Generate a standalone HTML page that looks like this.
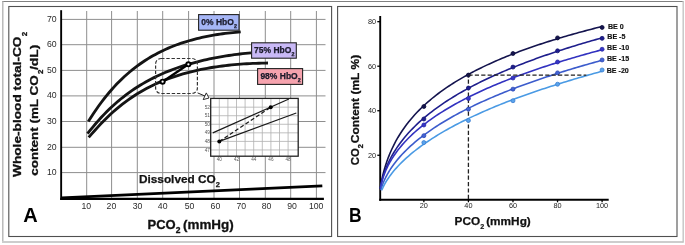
<!DOCTYPE html><html><head><meta charset="utf-8"><style>html,body{margin:0;padding:0;background:#fff;overflow:hidden}svg{display:block;will-change:transform}</style></head><body><svg width="685" height="245" viewBox="0 0 685 245">
<rect width="685" height="245" fill="#fff"/>
<line x1="2" y1="1.5" x2="683.5" y2="1.5" stroke="#808080" stroke-width="1"/>
<line x1="2.8" y1="1" x2="2.8" y2="242" stroke="#b0b0b0" stroke-width="1.3"/>
<line x1="2" y1="242" x2="683.5" y2="242" stroke="#cdcdcd" stroke-width="1.8"/>
<line x1="683.2" y1="1" x2="683.2" y2="242.5" stroke="#c4c4c4" stroke-width="1.4"/>
<rect x="8.8" y="6.5" width="322.8" height="230" fill="none" stroke="#505050" stroke-width="1.1"/>
<rect x="337.6" y="6.5" width="339.4" height="230" fill="none" stroke="#505050" stroke-width="1.1"/>
<path d="M86.70 11V198 M111.60 11V198 M137.30 11V198 M162.70 11V198 M188.60 11V198 M214.00 11V198 M239.50 11V198 M265.30 11V198 M290.70 11V198 M316.40 11V198 M62 19.40H325.5 M62 44.70H325.5 M62 70.40H325.5 M62 95.90H325.5 M62 121.50H325.5 M62 147.30H325.5 M62 172.60H325.5" stroke="#8e8e8e" stroke-width="1" fill="none"/>
<text x="56.6" y="175.00" font-family="Liberation Sans, sans-serif" font-size="8.7" fill="#2a2a2a" text-anchor="end">10</text>
<text x="56.6" y="149.70" font-family="Liberation Sans, sans-serif" font-size="8.7" fill="#2a2a2a" text-anchor="end">20</text>
<text x="56.6" y="123.90" font-family="Liberation Sans, sans-serif" font-size="8.7" fill="#2a2a2a" text-anchor="end">30</text>
<text x="56.6" y="98.30" font-family="Liberation Sans, sans-serif" font-size="8.7" fill="#2a2a2a" text-anchor="end">40</text>
<text x="56.6" y="72.80" font-family="Liberation Sans, sans-serif" font-size="8.7" fill="#2a2a2a" text-anchor="end">50</text>
<text x="56.6" y="47.10" font-family="Liberation Sans, sans-serif" font-size="8.7" fill="#2a2a2a" text-anchor="end">60</text>
<text x="56.6" y="21.80" font-family="Liberation Sans, sans-serif" font-size="8.7" fill="#2a2a2a" text-anchor="end">70</text>
<text x="86.30" y="208.80" font-family="Liberation Sans, sans-serif" font-size="8.7" fill="#2a2a2a" text-anchor="middle">10</text>
<text x="111.40" y="208.80" font-family="Liberation Sans, sans-serif" font-size="8.7" fill="#2a2a2a" text-anchor="middle">20</text>
<text x="137.50" y="208.80" font-family="Liberation Sans, sans-serif" font-size="8.7" fill="#2a2a2a" text-anchor="middle">30</text>
<text x="162.70" y="208.80" font-family="Liberation Sans, sans-serif" font-size="8.7" fill="#2a2a2a" text-anchor="middle">40</text>
<text x="189.50" y="208.80" font-family="Liberation Sans, sans-serif" font-size="8.7" fill="#2a2a2a" text-anchor="middle">50</text>
<text x="215.40" y="208.80" font-family="Liberation Sans, sans-serif" font-size="8.7" fill="#2a2a2a" text-anchor="middle">60</text>
<text x="241.30" y="208.80" font-family="Liberation Sans, sans-serif" font-size="8.7" fill="#2a2a2a" text-anchor="middle">70</text>
<text x="266.50" y="208.80" font-family="Liberation Sans, sans-serif" font-size="8.7" fill="#2a2a2a" text-anchor="middle">80</text>
<text x="292.10" y="208.80" font-family="Liberation Sans, sans-serif" font-size="8.7" fill="#2a2a2a" text-anchor="middle">90</text>
<text x="316.20" y="208.80" font-family="Liberation Sans, sans-serif" font-size="8.7" fill="#2a2a2a" text-anchor="middle">100</text>
<line x1="61.5" y1="197.9" x2="322.3" y2="185.9" stroke="#000" stroke-width="2.7"/>
<line x1="61.15" y1="10.2" x2="61.15" y2="199.9" stroke="#000" stroke-width="1.9"/>
<line x1="60.2" y1="198.8" x2="323.9" y2="198.8" stroke="#000" stroke-width="2.2"/>
<text x="139" y="183.2" font-family="Liberation Sans, sans-serif" font-weight="bold" font-size="11.8" fill="#111" stroke="#111" stroke-width="0.25">Dissolved CO<tspan font-size="7.5" dy="3.5">2</tspan></text>
<path d="M88.30 121.44 L90.88 117.41 L93.47 113.50 L96.05 109.71 L98.63 106.05 L101.22 102.52 L103.80 99.13 L106.38 95.87 L108.96 92.74 L111.55 89.74 L114.13 86.87 L116.71 84.11 L119.30 81.47 L121.88 78.95 L124.46 76.52 L127.05 74.21 L129.63 71.99 L132.21 69.86 L134.79 67.83 L137.38 65.88 L139.96 64.02 L142.54 62.23 L145.13 60.53 L147.71 58.89 L150.29 57.33 L152.88 55.83 L155.46 54.41 L158.04 53.04 L160.63 51.73 L163.21 50.48 L165.79 49.29 L168.37 48.15 L170.96 47.06 L173.54 46.03 L176.12 45.04 L178.71 44.09 L181.29 43.19 L183.87 42.34 L186.46 41.52 L189.04 40.75 L191.62 40.01 L194.21 39.31 L196.79 38.65 L199.37 38.02 L201.95 37.43 L204.54 36.87 L207.12 36.34 L209.70 35.84 L212.29 35.37 L214.87 34.93 L217.45 34.52 L220.04 34.13 L222.62 33.78 L225.20 33.44 L227.78 33.13 L230.37 32.85 L232.95 32.59 L235.53 32.35 L238.12 32.13 L240.70 31.93" stroke="#141414" stroke-width="2.85" fill="none"/>
<path d="M87.50 133.62 L90.27 130.17 L93.04 126.81 L95.81 123.54 L98.58 120.37 L101.36 117.32 L104.13 114.37 L106.90 111.54 L109.67 108.82 L112.44 106.21 L115.21 103.70 L117.98 101.29 L120.75 98.99 L123.53 96.77 L126.30 94.65 L129.07 92.61 L131.84 90.65 L134.61 88.78 L137.38 86.98 L140.15 85.25 L142.92 83.60 L145.69 82.01 L148.47 80.48 L151.24 79.02 L154.01 77.62 L156.78 76.27 L159.55 74.98 L162.32 73.74 L165.09 72.54 L167.86 71.40 L170.64 70.31 L173.41 69.26 L176.18 68.25 L178.95 67.28 L181.72 66.35 L184.49 65.46 L187.26 64.61 L190.03 63.80 L192.81 63.01 L195.58 62.26 L198.35 61.55 L201.12 60.86 L203.89 60.21 L206.66 59.58 L209.43 58.98 L212.20 58.41 L214.97 57.86 L217.75 57.34 L220.52 56.84 L223.29 56.37 L226.06 55.92 L228.83 55.49 L231.60 55.09 L234.37 54.70 L237.14 54.34 L239.92 53.99 L242.69 53.67 L245.46 53.36 L248.23 53.07 L251.00 52.80" stroke="#141414" stroke-width="2.85" fill="none"/>
<path d="M88.70 137.39 L91.74 133.89 L94.78 130.45 L97.82 127.09 L100.86 123.83 L103.89 120.69 L106.93 117.67 L109.97 114.77 L113.01 111.99 L116.05 109.33 L119.09 106.79 L122.13 104.36 L125.17 102.04 L128.21 99.83 L131.25 97.72 L134.28 95.70 L137.32 93.78 L140.36 91.95 L143.40 90.21 L146.44 88.55 L149.48 86.97 L152.52 85.46 L155.56 84.03 L158.60 82.67 L161.64 81.37 L164.67 80.14 L167.71 78.96 L170.75 77.85 L173.79 76.79 L176.83 75.79 L179.87 74.84 L182.91 73.94 L185.95 73.08 L188.99 72.28 L192.03 71.51 L195.06 70.79 L198.10 70.11 L201.14 69.47 L204.18 68.87 L207.22 68.30 L210.26 67.77 L213.30 67.28 L216.34 66.81 L219.38 66.38 L222.42 65.98 L225.45 65.61 L228.49 65.27 L231.53 64.95 L234.57 64.66 L237.61 64.40 L240.65 64.16 L243.69 63.95 L246.73 63.76 L249.77 63.59 L252.81 63.45 L255.84 63.32 L258.88 63.22 L261.92 63.14 L264.96 63.07 L268.00 63.03" stroke="#141414" stroke-width="2.85" fill="none"/>
<rect x="198.6" y="14.6" width="40.400000000000006" height="15.6" fill="#a6b6f6" stroke="#222" stroke-width="1.1"/>
<text x="201.3" y="25.1" font-family="Liberation Sans, sans-serif" font-weight="bold" font-size="8.5" fill="#1a1a2a" stroke="#1a1a2a" stroke-width="0.25">0% HbO<tspan font-size="5.3" dy="2.5">2</tspan></text>
<rect x="251.6" y="42.8" width="44.70000000000002" height="15.400000000000006" fill="#c9b9f6" stroke="#222" stroke-width="1.1"/>
<text x="254.1" y="53.0" font-family="Liberation Sans, sans-serif" font-weight="bold" font-size="8.5" fill="#1a1a2a" stroke="#1a1a2a" stroke-width="0.25">75% HbO<tspan font-size="5.3" dy="2.5">2</tspan></text>
<rect x="257.6" y="68.6" width="45.0" height="15.800000000000011" fill="#f6a3ae" stroke="#222" stroke-width="1.1"/>
<text x="260.4" y="79.1" font-family="Liberation Sans, sans-serif" font-weight="bold" font-size="8.5" fill="#1a1a2a" stroke="#1a1a2a" stroke-width="0.25">98% HbO<tspan font-size="5.3" dy="2.5">2</tspan></text>
<rect x="155.6" y="58.5" width="41.8" height="35" rx="5.5" fill="none" stroke="#333" stroke-width="1.2" stroke-dasharray="3.4 1.8"/>
<line x1="162.6" y1="81.7" x2="188.4" y2="64.3" stroke="#000" stroke-width="2.3"/>
<circle cx="162.6" cy="81.7" r="2.1" fill="#fff" stroke="#000" stroke-width="1.9"/>
<circle cx="188.4" cy="64.3" r="2.1" fill="#fff" stroke="#000" stroke-width="1.9"/>
<line x1="197.6" y1="92.9" x2="205.8" y2="96.4" stroke="#222" stroke-width="1"/>
<path d="M209 98 L206.3 92.9 L203.2 99.6 Z" fill="#fff" stroke="#222" stroke-width="0.95" stroke-linejoin="round"/>
<rect x="210.7" y="98.4" width="87.5" height="57.8" fill="#fff"/>
<path d="M219.30 98.4V156.2 M227.90 98.4V156.2 M236.50 98.4V156.2 M245.10 98.4V156.2 M253.70 98.4V156.2 M262.30 98.4V156.2 M270.90 98.4V156.2 M279.50 98.4V156.2 M288.10 98.4V156.2 M210.7 149.96H298.2 M210.7 141.40H298.2 M210.7 132.84H298.2 M210.7 124.28H298.2 M210.7 115.72H298.2 M210.7 107.16H298.2" stroke="#b0b0b0" stroke-width="0.8" fill="none"/>
<rect x="210.7" y="98.4" width="87.5" height="57.8" fill="none" stroke="#222" stroke-width="1.3"/>
<text x="209.9" y="151.56" font-family="Liberation Sans, sans-serif" font-size="4.7" fill="#555" text-anchor="end">47</text>
<text x="209.9" y="143.00" font-family="Liberation Sans, sans-serif" font-size="4.7" fill="#555" text-anchor="end">48</text>
<text x="209.9" y="134.44" font-family="Liberation Sans, sans-serif" font-size="4.7" fill="#555" text-anchor="end">49</text>
<text x="209.9" y="125.88" font-family="Liberation Sans, sans-serif" font-size="4.7" fill="#555" text-anchor="end">50</text>
<text x="209.9" y="117.32" font-family="Liberation Sans, sans-serif" font-size="4.7" fill="#555" text-anchor="end">51</text>
<text x="209.9" y="108.76" font-family="Liberation Sans, sans-serif" font-size="4.7" fill="#555" text-anchor="end">52</text>
<text x="219.30" y="161.2" font-family="Liberation Sans, sans-serif" font-size="4.6" fill="#555" text-anchor="middle">40</text>
<text x="236.50" y="161.2" font-family="Liberation Sans, sans-serif" font-size="4.6" fill="#555" text-anchor="middle">42</text>
<text x="253.70" y="161.2" font-family="Liberation Sans, sans-serif" font-size="4.6" fill="#555" text-anchor="middle">44</text>
<text x="270.90" y="161.2" font-family="Liberation Sans, sans-serif" font-size="4.6" fill="#555" text-anchor="middle">46</text>
<text x="288.10" y="161.2" font-family="Liberation Sans, sans-serif" font-size="4.6" fill="#555" text-anchor="middle">48</text>
<line x1="212.8" y1="132.9" x2="288.9" y2="99" stroke="#1a1a1a" stroke-width="1.15"/>
<line x1="219.3" y1="141.4" x2="296.3" y2="113" stroke="#1a1a1a" stroke-width="1.15"/>
<line x1="219.3" y1="141.4" x2="270.7" y2="107.3" stroke="#1a1a1a" stroke-width="1.3" stroke-dasharray="4 2.3"/>
<circle cx="219.3" cy="141.4" r="2" fill="#000"/>
<circle cx="270.7" cy="107.3" r="2" fill="#000"/>
<text x="23.2" y="222.2" font-family="Liberation Sans, sans-serif" font-weight="bold" font-size="20" fill="#000">A</text>
<text x="147.5" y="228.7" font-family="Liberation Sans, sans-serif" font-weight="bold" font-size="13" fill="#111" stroke="#111" stroke-width="0.3">PCO<tspan font-size="8.5" dy="4">2</tspan></text>
<text x="183.0" y="228.7" font-family="Liberation Sans, sans-serif" font-weight="bold" font-size="13" fill="#111" stroke="#111" stroke-width="0.3" textLength="50.7" lengthAdjust="spacingAndGlyphs">(mmHg)</text>
<text transform="translate(20.9 177) rotate(-90)" font-family="Liberation Sans, sans-serif" font-weight="bold" font-size="11.8" fill="#111" stroke="#111" stroke-width="0.3" textLength="140.5" lengthAdjust="spacingAndGlyphs">Whole-blood total-CO</text>
<text transform="translate(26.6 36.3) rotate(-90)" font-family="Liberation Sans, sans-serif" font-weight="bold" font-size="8" fill="#111" stroke="#111" stroke-width="0.3">2</text>
<text transform="translate(38.2 175.8) rotate(-90)" font-family="Liberation Sans, sans-serif" font-weight="bold" font-size="11.8" fill="#111" stroke="#111" stroke-width="0.3" textLength="100.5" lengthAdjust="spacingAndGlyphs">content (mL CO</text>
<text transform="translate(42.8 74) rotate(-90)" font-family="Liberation Sans, sans-serif" font-weight="bold" font-size="8" fill="#111" stroke="#111" stroke-width="0.3">2</text>
<text transform="translate(38.2 70) rotate(-90)" font-family="Liberation Sans, sans-serif" font-weight="bold" font-size="11.8" fill="#111" stroke="#111" stroke-width="0.3" textLength="25.5" lengthAdjust="spacingAndGlyphs">/dL)</text>
<line x1="380.2" y1="16" x2="380.2" y2="200.8" stroke="#000" stroke-width="1.9"/>
<line x1="379.3" y1="199.8" x2="608.7" y2="199.8" stroke="#000" stroke-width="1.9"/>
<line x1="377.3" y1="155.27" x2="380" y2="155.27" stroke="#000" stroke-width="1.3"/>
<text x="376.2" y="157.67" font-family="Liberation Sans, sans-serif" font-size="7.3" fill="#222" text-anchor="end">20</text>
<line x1="377.3" y1="110.73" x2="380" y2="110.73" stroke="#000" stroke-width="1.3"/>
<text x="376.2" y="113.13" font-family="Liberation Sans, sans-serif" font-size="7.3" fill="#222" text-anchor="end">40</text>
<line x1="377.3" y1="66.20" x2="380" y2="66.20" stroke="#000" stroke-width="1.3"/>
<text x="376.2" y="68.60" font-family="Liberation Sans, sans-serif" font-size="7.3" fill="#222" text-anchor="end">60</text>
<line x1="377.3" y1="21.66" x2="380" y2="21.66" stroke="#000" stroke-width="1.3"/>
<text x="376.2" y="24.06" font-family="Liberation Sans, sans-serif" font-size="7.3" fill="#222" text-anchor="end">80</text>
<line x1="423.86" y1="200" x2="423.86" y2="202.3" stroke="#000" stroke-width="1.3"/>
<text x="423.86" y="207.7" font-family="Liberation Sans, sans-serif" font-size="7.3" fill="#222" text-anchor="middle">20</text>
<line x1="468.42" y1="200" x2="468.42" y2="202.3" stroke="#000" stroke-width="1.3"/>
<text x="468.42" y="207.7" font-family="Liberation Sans, sans-serif" font-size="7.3" fill="#222" text-anchor="middle">40</text>
<line x1="512.98" y1="200" x2="512.98" y2="202.3" stroke="#000" stroke-width="1.3"/>
<text x="512.98" y="207.7" font-family="Liberation Sans, sans-serif" font-size="7.3" fill="#222" text-anchor="middle">60</text>
<line x1="557.54" y1="200" x2="557.54" y2="202.3" stroke="#000" stroke-width="1.3"/>
<text x="557.54" y="207.7" font-family="Liberation Sans, sans-serif" font-size="7.3" fill="#222" text-anchor="middle">80</text>
<line x1="602.10" y1="200" x2="602.10" y2="202.3" stroke="#000" stroke-width="1.3"/>
<text x="602.10" y="207.7" font-family="Liberation Sans, sans-serif" font-size="7.3" fill="#222" text-anchor="middle">100</text>
<path d="M468.42 199V75.10" stroke="#222" stroke-width="1.3" stroke-dasharray="4.2 2.2" fill="none"/>
<path d="M380.30 188.71 L380.37 188.26 L380.43 187.79 L380.51 187.30 L380.58 186.79 L380.67 186.27 L380.75 185.72 L380.84 185.15 L380.94 184.57 L381.05 183.96 L381.16 183.33 L381.28 182.68 L381.40 182.00 L381.54 181.30 L381.68 180.57 L381.83 179.82 L381.99 179.04 L382.16 178.23 L382.35 177.40 L382.54 176.54 L382.75 175.65 L382.97 174.72 L383.20 173.77 L383.45 172.79 L383.71 171.77 L383.99 170.72 L384.29 169.64 L384.61 168.53 L384.95 167.37 L385.31 166.19 L385.69 164.97 L386.10 163.71 L386.53 162.41 L386.99 161.07 L387.48 159.70 L388.00 158.29 L388.56 156.84 L389.15 155.34 L389.77 153.81 L390.44 152.24 L391.55 149.72 L393.68 145.28 L395.81 141.22 L397.93 137.47 L400.06 133.99 L402.19 130.73 L404.31 127.67 L406.44 124.78 L408.57 122.03 L410.69 119.42 L412.82 116.94 L414.95 114.56 L417.07 112.28 L419.20 110.09 L421.33 107.98 L423.45 105.96 L425.58 104.00 L427.71 102.11 L429.84 100.27 L431.96 98.50 L434.09 96.78 L436.22 95.11 L438.34 93.49 L440.47 91.91 L442.60 90.37 L444.72 88.87 L446.85 87.41 L448.98 85.99 L451.10 84.60 L453.23 83.24 L455.36 81.91 L457.48 80.61 L459.61 79.34 L461.74 78.09 L463.86 76.88 L465.99 75.68 L468.12 74.51 L470.24 73.36 L472.37 72.23 L474.50 71.13 L476.62 70.04 L478.75 68.98 L480.88 67.93 L483.00 66.90 L485.13 65.88 L487.26 64.89 L489.38 63.91 L491.51 62.94 L493.64 61.99 L495.76 61.06 L497.89 60.14 L500.02 59.23 L502.14 58.33 L504.27 57.45 L506.40 56.58 L508.52 55.73 L510.65 54.88 L512.78 54.05 L514.90 53.23 L517.03 52.42 L519.16 51.62 L521.28 50.83 L523.41 50.05 L525.54 49.28 L527.66 48.51 L529.79 47.76 L531.92 47.02 L534.04 46.29 L536.17 45.56 L538.30 44.84 L540.42 44.13 L542.55 43.43 L544.68 42.74 L546.81 42.06 L548.93 41.38 L551.06 40.71 L553.19 40.04 L555.31 39.39 L557.44 38.74 L559.57 38.09 L561.69 37.46 L563.82 36.83 L565.95 36.20 L568.07 35.59 L570.20 34.98 L572.33 34.37 L574.45 33.77 L576.58 33.18 L578.71 32.59 L580.83 32.01 L582.96 31.43 L585.09 30.86 L587.21 30.29 L589.34 29.73 L591.47 29.17 L593.59 28.62 L595.72 28.07 L597.85 27.53 L599.97 26.99 L602.10 26.46" stroke="#14144e" stroke-width="1.6" fill="none"/>
<circle cx="423.86" cy="106.50" r="2" fill="#14144e" stroke="#0c0c3a" stroke-width="0.8"/>
<circle cx="468.42" cy="75.10" r="2" fill="#14144e" stroke="#0c0c3a" stroke-width="0.8"/>
<circle cx="512.98" cy="53.51" r="2" fill="#14144e" stroke="#0c0c3a" stroke-width="0.8"/>
<circle cx="557.54" cy="37.92" r="2" fill="#14144e" stroke="#0c0c3a" stroke-width="0.8"/>
<circle cx="602.10" cy="27.45" r="2" fill="#14144e" stroke="#0c0c3a" stroke-width="0.8"/>
<path d="M380.30 188.60 L380.37 188.20 L380.43 187.80 L380.51 187.38 L380.58 186.94 L380.67 186.49 L380.75 186.03 L380.84 185.55 L380.94 185.05 L381.05 184.54 L381.16 184.01 L381.28 183.46 L381.40 182.89 L381.54 182.31 L381.68 181.70 L381.83 181.08 L381.99 180.44 L382.16 179.77 L382.35 179.08 L382.54 178.38 L382.75 177.64 L382.97 176.89 L383.20 176.11 L383.45 175.31 L383.71 174.48 L383.99 173.62 L384.29 172.74 L384.61 171.83 L384.95 170.89 L385.31 169.93 L385.69 168.93 L386.10 167.90 L386.53 166.84 L386.99 165.75 L387.48 164.63 L388.00 163.47 L388.56 162.28 L389.15 161.06 L389.77 159.80 L390.44 158.50 L391.55 156.42 L393.68 152.73 L395.81 149.32 L397.93 146.16 L400.06 143.19 L402.19 140.40 L404.31 137.75 L406.44 135.23 L408.57 132.83 L410.69 130.53 L412.82 128.32 L414.95 126.20 L417.07 124.15 L419.20 122.17 L421.33 120.26 L423.45 118.41 L425.58 116.61 L427.71 114.87 L429.84 113.17 L431.96 111.52 L434.09 109.91 L436.22 108.34 L438.34 106.81 L440.47 105.31 L442.60 103.85 L444.72 102.42 L446.85 101.02 L448.98 99.65 L451.10 98.30 L453.23 96.99 L455.36 95.70 L457.48 94.43 L459.61 93.18 L461.74 91.96 L463.86 90.76 L465.99 89.58 L468.12 88.42 L470.24 87.28 L472.37 86.15 L474.50 85.05 L476.62 83.96 L478.75 82.89 L480.88 81.83 L483.00 80.79 L485.13 79.76 L487.26 78.75 L489.38 77.75 L491.51 76.77 L493.64 75.79 L495.76 74.84 L497.89 73.89 L500.02 72.95 L502.14 72.03 L504.27 71.12 L506.40 70.22 L508.52 69.33 L510.65 68.45 L512.78 67.58 L514.90 66.72 L517.03 65.87 L519.16 65.03 L521.28 64.20 L523.41 63.38 L525.54 62.57 L527.66 61.76 L529.79 60.96 L531.92 60.18 L534.04 59.40 L536.17 58.62 L538.30 57.86 L540.42 57.10 L542.55 56.35 L544.68 55.61 L546.81 54.87 L548.93 54.15 L551.06 53.42 L553.19 52.71 L555.31 52.00 L557.44 51.30 L559.57 50.60 L561.69 49.91 L563.82 49.23 L565.95 48.55 L568.07 47.87 L570.20 47.21 L572.33 46.55 L574.45 45.89 L576.58 45.24 L578.71 44.59 L580.83 43.95 L582.96 43.32 L585.09 42.69 L587.21 42.06 L589.34 41.44 L591.47 40.83 L593.59 40.22 L595.72 39.61 L597.85 39.01 L599.97 38.41 L602.10 37.82" stroke="#1e1e8c" stroke-width="1.6" fill="none"/>
<circle cx="423.86" cy="118.97" r="2" fill="#1e1e90" stroke="#161670" stroke-width="0.8"/>
<circle cx="468.42" cy="88.02" r="2" fill="#1e1e90" stroke="#161670" stroke-width="0.8"/>
<circle cx="512.98" cy="67.09" r="2" fill="#1e1e90" stroke="#161670" stroke-width="0.8"/>
<circle cx="557.54" cy="50.83" r="2" fill="#1e1e90" stroke="#161670" stroke-width="0.8"/>
<circle cx="602.10" cy="38.36" r="2" fill="#1e1e90" stroke="#161670" stroke-width="0.8"/>
<path d="M380.30 188.76 L380.37 188.39 L380.43 188.01 L380.51 187.62 L380.58 187.21 L380.67 186.79 L380.75 186.36 L380.84 185.91 L380.94 185.45 L381.05 184.98 L381.16 184.49 L381.28 183.98 L381.40 183.46 L381.54 182.92 L381.68 182.36 L381.83 181.79 L381.99 181.20 L382.16 180.59 L382.35 179.96 L382.54 179.31 L382.75 178.64 L382.97 177.95 L383.20 177.24 L383.45 176.50 L383.71 175.75 L383.99 174.97 L384.29 174.17 L384.61 173.34 L384.95 172.49 L385.31 171.61 L385.69 170.70 L386.10 169.77 L386.53 168.81 L386.99 167.82 L387.48 166.81 L388.00 165.76 L388.56 164.68 L389.15 163.58 L389.77 162.43 L390.44 161.26 L391.55 159.38 L393.68 156.04 L395.81 152.97 L397.93 150.10 L400.06 147.42 L402.19 144.89 L404.31 142.49 L406.44 140.21 L408.57 138.03 L410.69 135.95 L412.82 133.94 L414.95 132.01 L417.07 130.15 L419.20 128.35 L421.33 126.60 L423.45 124.91 L425.58 123.27 L427.71 121.68 L429.84 120.12 L431.96 118.61 L434.09 117.14 L436.22 115.70 L438.34 114.29 L440.47 112.92 L442.60 111.58 L444.72 110.26 L446.85 108.97 L448.98 107.71 L451.10 106.47 L453.23 105.26 L455.36 104.06 L457.48 102.89 L459.61 101.74 L461.74 100.61 L463.86 99.50 L465.99 98.41 L468.12 97.33 L470.24 96.27 L472.37 95.23 L474.50 94.20 L476.62 93.19 L478.75 92.19 L480.88 91.21 L483.00 90.24 L485.13 89.29 L487.26 88.34 L489.38 87.41 L491.51 86.49 L493.64 85.59 L495.76 84.69 L497.89 83.81 L500.02 82.93 L502.14 82.07 L504.27 81.21 L506.40 80.37 L508.52 79.54 L510.65 78.71 L512.78 77.90 L514.90 77.09 L517.03 76.29 L519.16 75.50 L521.28 74.72 L523.41 73.95 L525.54 73.18 L527.66 72.43 L529.79 71.68 L531.92 70.93 L534.04 70.20 L536.17 69.47 L538.30 68.75 L540.42 68.03 L542.55 67.33 L544.68 66.63 L546.81 65.93 L548.93 65.24 L551.06 64.56 L553.19 63.88 L555.31 63.21 L557.44 62.54 L559.57 61.88 L561.69 61.23 L563.82 60.58 L565.95 59.94 L568.07 59.30 L570.20 58.67 L572.33 58.04 L574.45 57.41 L576.58 56.80 L578.71 56.18 L580.83 55.57 L582.96 54.97 L585.09 54.37 L587.21 53.77 L589.34 53.18 L591.47 52.60 L593.59 52.01 L595.72 51.44 L597.85 50.86 L599.97 50.29 L602.10 49.72" stroke="#3232c0" stroke-width="1.6" fill="none"/>
<circle cx="423.86" cy="124.98" r="2" fill="#3636c8" stroke="#2828a4" stroke-width="0.8"/>
<circle cx="468.42" cy="98.49" r="2" fill="#3636c8" stroke="#2828a4" stroke-width="0.8"/>
<circle cx="512.98" cy="78.00" r="2" fill="#3636c8" stroke="#2828a4" stroke-width="0.8"/>
<circle cx="557.54" cy="61.97" r="2" fill="#3636c8" stroke="#2828a4" stroke-width="0.8"/>
<circle cx="602.10" cy="49.28" r="2" fill="#3636c8" stroke="#2828a4" stroke-width="0.8"/>
<path d="M380.78 190.23 L380.86 189.93 L380.95 189.62 L381.03 189.31 L381.13 188.99 L381.22 188.65 L381.32 188.31 L381.43 187.96 L381.54 187.59 L381.66 187.22 L381.79 186.83 L381.92 186.44 L382.06 186.03 L382.21 185.61 L382.36 185.17 L382.52 184.73 L382.69 184.27 L382.87 183.80 L383.06 183.31 L383.26 182.81 L383.47 182.29 L383.69 181.76 L383.93 181.22 L384.17 180.66 L384.43 180.08 L384.70 179.49 L384.99 178.88 L385.29 178.25 L385.61 177.60 L385.94 176.94 L386.30 176.26 L386.67 175.55 L387.06 174.83 L387.47 174.09 L387.90 173.33 L388.36 172.54 L388.84 171.74 L389.35 170.91 L389.88 170.06 L390.44 169.19 L391.55 167.51 L393.68 164.51 L395.81 161.73 L397.93 159.11 L400.06 156.65 L402.19 154.31 L404.31 152.08 L406.44 149.95 L408.57 147.90 L410.69 145.94 L412.82 144.04 L414.95 142.21 L417.07 140.44 L419.20 138.72 L421.33 137.05 L423.45 135.43 L425.58 133.85 L427.71 132.31 L429.84 130.81 L431.96 129.34 L434.09 127.91 L436.22 126.51 L438.34 125.14 L440.47 123.80 L442.60 122.49 L444.72 121.20 L446.85 119.94 L448.98 118.70 L451.10 117.48 L453.23 116.28 L455.36 115.11 L457.48 113.95 L459.61 112.81 L461.74 111.69 L463.86 110.59 L465.99 109.51 L468.12 108.44 L470.24 107.39 L472.37 106.35 L474.50 105.33 L476.62 104.32 L478.75 103.32 L480.88 102.34 L483.00 101.37 L485.13 100.42 L487.26 99.47 L489.38 98.54 L491.51 97.62 L493.64 96.71 L495.76 95.81 L497.89 94.92 L500.02 94.04 L502.14 93.17 L504.27 92.31 L506.40 91.46 L508.52 90.62 L510.65 89.79 L512.78 88.96 L514.90 88.15 L517.03 87.34 L519.16 86.55 L521.28 85.76 L523.41 84.97 L525.54 84.20 L527.66 83.43 L529.79 82.67 L531.92 81.92 L534.04 81.17 L536.17 80.43 L538.30 79.70 L540.42 78.97 L542.55 78.25 L544.68 77.54 L546.81 76.83 L548.93 76.13 L551.06 75.43 L553.19 74.74 L555.31 74.06 L557.44 73.38 L559.57 72.71 L561.69 72.04 L563.82 71.38 L565.95 70.72 L568.07 70.07 L570.20 69.42 L572.33 68.78 L574.45 68.14 L576.58 67.51 L578.71 66.88 L580.83 66.26 L582.96 65.64 L585.09 65.02 L587.21 64.41 L589.34 63.81 L591.47 63.21 L593.59 62.61 L595.72 62.02 L597.85 61.43 L599.97 60.84 L602.10 60.26" stroke="#3c5ccc" stroke-width="1.6" fill="none"/>
<circle cx="423.86" cy="135.67" r="2" fill="#4464d4" stroke="#2c48b4" stroke-width="0.8"/>
<circle cx="468.42" cy="109.17" r="2" fill="#4464d4" stroke="#2c48b4" stroke-width="0.8"/>
<circle cx="512.98" cy="89.13" r="2" fill="#4464d4" stroke="#2c48b4" stroke-width="0.8"/>
<circle cx="557.54" cy="72.88" r="2" fill="#4464d4" stroke="#2c48b4" stroke-width="0.8"/>
<circle cx="602.10" cy="59.96" r="2" fill="#4464d4" stroke="#2c48b4" stroke-width="0.8"/>
<path d="M381.76 190.23 L381.86 189.99 L381.96 189.74 L382.06 189.49 L382.17 189.24 L382.29 188.97 L382.40 188.71 L382.53 188.43 L382.65 188.15 L382.79 187.86 L382.92 187.56 L383.07 187.26 L383.22 186.95 L383.37 186.64 L383.53 186.31 L383.70 185.98 L383.87 185.64 L384.05 185.29 L384.24 184.93 L384.44 184.57 L384.64 184.20 L384.85 183.81 L385.07 183.42 L385.30 183.02 L385.53 182.61 L385.78 182.19 L386.03 181.76 L386.30 181.33 L386.58 180.88 L386.86 180.42 L387.16 179.95 L387.47 179.47 L387.80 178.97 L388.13 178.47 L388.48 177.96 L388.84 177.43 L389.22 176.89 L389.61 176.34 L390.02 175.78 L390.44 175.21 L391.55 173.74 L393.68 171.08 L395.81 168.59 L397.93 166.25 L400.06 164.02 L402.19 161.89 L404.31 159.86 L406.44 157.91 L408.57 156.03 L410.69 154.21 L412.82 152.46 L414.95 150.75 L417.07 149.10 L419.20 147.50 L421.33 145.93 L423.45 144.41 L425.58 142.92 L427.71 141.47 L429.84 140.06 L431.96 138.67 L434.09 137.31 L436.22 135.99 L438.34 134.68 L440.47 133.41 L442.60 132.15 L444.72 130.92 L446.85 129.71 L448.98 128.52 L451.10 127.36 L453.23 126.21 L455.36 125.08 L457.48 123.97 L459.61 122.87 L461.74 121.79 L463.86 120.73 L465.99 119.68 L468.12 118.65 L470.24 117.63 L472.37 116.62 L474.50 115.63 L476.62 114.65 L478.75 113.68 L480.88 112.73 L483.00 111.79 L485.13 110.86 L487.26 109.94 L489.38 109.03 L491.51 108.13 L493.64 107.24 L495.76 106.36 L497.89 105.49 L500.02 104.63 L502.14 103.78 L504.27 102.94 L506.40 102.11 L508.52 101.28 L510.65 100.47 L512.78 99.66 L514.90 98.86 L517.03 98.07 L519.16 97.28 L521.28 96.50 L523.41 95.73 L525.54 94.97 L527.66 94.22 L529.79 93.47 L531.92 92.72 L534.04 91.99 L536.17 91.26 L538.30 90.54 L540.42 89.82 L542.55 89.11 L544.68 88.40 L546.81 87.70 L548.93 87.01 L551.06 86.32 L553.19 85.64 L555.31 84.96 L557.44 84.29 L559.57 83.62 L561.69 82.96 L563.82 82.31 L565.95 81.65 L568.07 81.01 L570.20 80.37 L572.33 79.73 L574.45 79.10 L576.58 78.47 L578.71 77.84 L580.83 77.22 L582.96 76.61 L585.09 76.00 L587.21 75.39 L589.34 74.79 L591.47 74.19 L593.59 73.60 L595.72 73.01 L597.85 72.42 L599.97 71.84 L602.10 71.26" stroke="#4a9ae4" stroke-width="1.6" fill="none"/>
<circle cx="423.86" cy="142.57" r="2" fill="#5aa4ec" stroke="#3a7cd0" stroke-width="0.8"/>
<circle cx="468.42" cy="120.53" r="2" fill="#5aa4ec" stroke="#3a7cd0" stroke-width="0.8"/>
<circle cx="512.98" cy="100.71" r="2" fill="#5aa4ec" stroke="#3a7cd0" stroke-width="0.8"/>
<circle cx="557.54" cy="84.23" r="2" fill="#5aa4ec" stroke="#3a7cd0" stroke-width="0.8"/>
<circle cx="602.10" cy="69.98" r="2" fill="#5aa4ec" stroke="#3a7cd0" stroke-width="0.8"/>
<path d="M468.42 75.10H586.3" stroke="#222" stroke-width="1.3" stroke-dasharray="4.2 2.2" fill="none"/>
<text x="607.9" y="28.50" font-family="Liberation Sans, sans-serif" font-weight="bold" font-size="7.1" fill="#111" stroke="#111" stroke-width="0.15">BE 0</text>
<text x="607.3" y="38.60" font-family="Liberation Sans, sans-serif" font-weight="bold" font-size="7.1" fill="#111" stroke="#111" stroke-width="0.15">BE -5</text>
<text x="607.1" y="49.90" font-family="Liberation Sans, sans-serif" font-weight="bold" font-size="7.1" fill="#111" stroke="#111" stroke-width="0.15">BE -10</text>
<text x="607.0" y="61.20" font-family="Liberation Sans, sans-serif" font-weight="bold" font-size="7.1" fill="#111" stroke="#111" stroke-width="0.15">BE -15</text>
<text x="606.7" y="72.90" font-family="Liberation Sans, sans-serif" font-weight="bold" font-size="7.1" fill="#111" stroke="#111" stroke-width="0.15">BE -20</text>
<text x="348.9" y="222.3" font-family="Liberation Sans, sans-serif" font-weight="bold" font-size="20" fill="#000" textLength="12.6" lengthAdjust="spacingAndGlyphs">B</text>
<text x="454.6" y="225.2" font-family="Liberation Sans, sans-serif" font-weight="bold" font-size="11" fill="#111" stroke="#111" stroke-width="0.25" textLength="25.5" lengthAdjust="spacingAndGlyphs">PCO</text>
<text x="480.2" y="229.3" font-family="Liberation Sans, sans-serif" font-weight="bold" font-size="7.2" fill="#111" stroke="#111" stroke-width="0.2">2</text>
<text x="486.2" y="225.2" font-family="Liberation Sans, sans-serif" font-weight="bold" font-size="11" fill="#111" stroke="#111" stroke-width="0.25" textLength="44.6" lengthAdjust="spacingAndGlyphs">(mmHg)</text>
<text transform="translate(358.8 165.3) rotate(-90)" font-family="Liberation Sans, sans-serif" font-weight="bold" font-size="11.3" fill="#111" stroke="#111" stroke-width="0.3" textLength="17.0" lengthAdjust="spacingAndGlyphs">CO</text>
<text transform="translate(363.2 148.2) rotate(-90)" font-family="Liberation Sans, sans-serif" font-weight="bold" font-size="7.5" fill="#111" stroke="#111" stroke-width="0.3">2</text>
<text transform="translate(358.8 143.2) rotate(-90)" font-family="Liberation Sans, sans-serif" font-weight="bold" font-size="11.3" fill="#111" stroke="#111" stroke-width="0.3" textLength="88.4" lengthAdjust="spacingAndGlyphs">Content (mL %)</text>
</svg></body></html>
